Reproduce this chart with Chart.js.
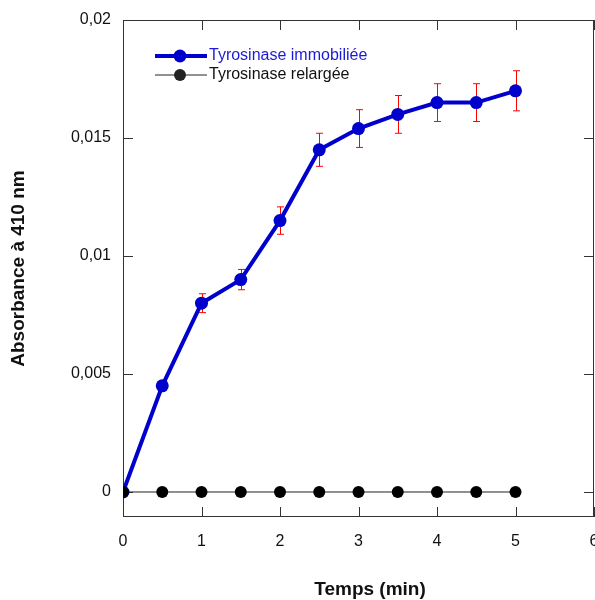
<!DOCTYPE html>
<html lang="fr">
<head>
<meta charset="utf-8">
<title>Absorbance à 410 nm</title>
<script src="https://cdn.jsdelivr.net/npm/chart.js@4.4.1/dist/chart.umd.min.js"></script>
<style>
  html, body { margin: 0; padding: 0; background: #fff; }
  canvas { display: block; }
</style>
</head>
<body>
<canvas id="chart" width="595" height="600"></canvas>
<script>
// Kinetics at 410 nm: immobilised vs released tyrosinase.
const temps = [0, 0.5, 1, 1.5, 2, 2.5, 3, 3.5, 4, 4.5, 5];
const immobiliee = [0, 0.0045, 0.008, 0.009, 0.0115, 0.0145, 0.0154, 0.016, 0.0165, 0.0165, 0.017];
const immobilieeErr = [0, 0.0002, 0.0004, 0.00043, 0.00058, 0.0007, 0.0008, 0.0008, 0.0008, 0.0008, 0.00085];
const relargee = [0, 0, 0, 0, 0, 0, 0, 0, 0, 0, 0];

const xTicks = [0, 1, 2, 3, 4, 5, 6];
const yTicks = [0, 0.005, 0.01, 0.015, 0.02];
const yTickLabels = ["0", "0,005", "0,01", "0,015", "0,02"];
const legendLabels = ["Tyrosinase immobiliée", "Tyrosinase relargée"];
const xTitle = "Temps (min)";
const yTitle = "Absorbance à 410 nm";

const FONT = 'Arial, "Liberation Sans", sans-serif';
const BLUE = "#0000cc";

Chart.defaults.font.family = FONT;
Chart.defaults.font.size = 16;
Chart.defaults.color = "#111";

const toPoints = (ys) => temps.map((t, i) => ({ x: t, y: ys[i] }));

// Box around the plot with inward tick marks on every side.
const frameTicks = {
  id: "frameTicks",
  beforeDatasetsDraw(chart) {
    const { ctx, chartArea: a, scales: { x, y } } = chart;
    const len = 10;
    ctx.save();
    ctx.strokeStyle = "#333";
    ctx.lineWidth = 1;
    ctx.strokeRect(a.left + 0.5, a.top + 0.5, a.right - a.left - 1, a.bottom - a.top - 1);
    ctx.beginPath();
    xTicks.forEach((v) => {
      const px = Math.round(x.getPixelForValue(v)) + 0.5;
      ctx.moveTo(px, a.bottom);
      ctx.lineTo(px, a.bottom - len);
      ctx.moveTo(px, a.top);
      ctx.lineTo(px, a.top + len);
    });
    yTicks.forEach((v) => {
      const py = Math.round(y.getPixelForValue(v)) + 0.5;
      ctx.moveTo(a.left, py);
      ctx.lineTo(a.left + len, py);
      ctx.moveTo(a.right, py);
      ctx.lineTo(a.right - len, py);
    });
    ctx.stroke();
    ctx.restore();
  },
};

// Red error bars for the immobilised series, drawn under the markers.
const errorBars = {
  id: "errorBars",
  beforeDatasetsDraw(chart) {
    const { ctx, scales: { x, y } } = chart;
    const cap = 3.5;
    ctx.save();
    ctx.strokeStyle = "#ff0000";
    ctx.lineWidth = 1;
    ctx.beginPath();
    temps.forEach((t, i) => {
      const e = immobilieeErr[i];
      if (!e) return;
      const px = Math.round(x.getPixelForValue(t)) + 0.5;
      const y1 = y.getPixelForValue(immobiliee[i] + e);
      const y2 = y.getPixelForValue(immobiliee[i] - e);
      ctx.moveTo(px, y1);
      ctx.lineTo(px, y2);
      ctx.moveTo(px - cap, y1);
      ctx.lineTo(px + cap, y1);
      ctx.moveTo(px - cap, y2);
      ctx.lineTo(px + cap, y2);
    });
    ctx.stroke();
    ctx.restore();
  },
};

// Legend inside the plot + both axis titles.
const annotations = {
  id: "annotations",
  afterDraw(chart) {
    const { ctx, chartArea: a } = chart;
    const entries = [
      { label: legendLabels[0], color: BLUE, text: "#1a1ad8", width: 4, r: 6.5, dy: 36 },
      { label: legendLabels[1], color: "#222", text: "#111", width: 1, r: 6, dy: 55 },
    ];
    ctx.save();
    entries.forEach((e) => {
      const yy = a.top + e.dy;
      ctx.strokeStyle = e.color;
      ctx.lineWidth = e.width;
      ctx.beginPath();
      ctx.moveTo(a.left + 32, yy);
      ctx.lineTo(a.left + 84, yy);
      ctx.stroke();
      ctx.fillStyle = e.color;
      ctx.beginPath();
      ctx.arc(a.left + 57, yy, e.r, 0, Math.PI * 2);
      ctx.fill();
      ctx.fillStyle = e.text;
      ctx.font = "16px " + FONT;
      ctx.textAlign = "left";
      ctx.textBaseline = "middle";
      ctx.fillText(e.label, a.left + 86, yy);
    });

    ctx.fillStyle = "#111";
    ctx.font = "bold 19px " + FONT;
    ctx.textAlign = "center";
    ctx.textBaseline = "middle";
    ctx.fillText(xTitle, 370, 590);
    ctx.translate(19, (a.top + a.bottom) / 2);
    ctx.rotate(-Math.PI / 2);
    ctx.fillText(yTitle, 0, 0);
    ctx.restore();
  },
};

new Chart(document.getElementById("chart").getContext("2d"), {
  type: "line",
  data: {
    datasets: [
      {
        label: legendLabels[1],
        data: toPoints(relargee),
        borderColor: "#222",
        backgroundColor: "#000",
        borderWidth: 1,
        pointRadius: 6,
        pointBorderWidth: 0,
        pointBackgroundColor: "#000",
        order: 0,
      },
      {
        label: legendLabels[0],
        data: toPoints(immobiliee),
        borderColor: BLUE,
        backgroundColor: BLUE,
        borderWidth: 4,
        pointRadius: 6.5,
        pointBorderWidth: 0,
        pointBackgroundColor: BLUE,
        order: 1,
      },
    ],
  },
  options: {
    responsive: false,
    animation: false,
    layout: { autoPadding: false, padding: { left: 0, right: 1, top: 20, bottom: 0 } },
    plugins: { legend: { display: false }, tooltip: { enabled: false } },
    scales: {
      x: {
        type: "linear",
        min: 0,
        max: 6,
        grid: { display: false, drawTicks: false },
        border: { display: false },
        afterBuildTicks: (s) => { s.ticks = xTicks.map((v) => ({ value: v })); },
        ticks: { padding: 15, color: "#111", callback: (v) => String(v) },
        afterFit: (s) => { s.height = 83; s.paddingLeft = 0; s.paddingRight = 0; },
      },
      y: {
        min: -0.00106,
        max: 0.02,
        grid: { display: false, drawTicks: false },
        border: { display: false },
        afterBuildTicks: (s) => { s.ticks = yTicks.map((v) => ({ value: v })); },
        ticks: {
          padding: 12,
          color: "#111",
          callback: (v) => yTickLabels[yTicks.indexOf(v)] ?? "",
        },
        afterFit: (s) => { s.width = 123; s.paddingTop = 0; s.paddingBottom = 0; },
      },
    },
  },
  plugins: [frameTicks, errorBars, annotations],
});
</script>
</body>
</html>
